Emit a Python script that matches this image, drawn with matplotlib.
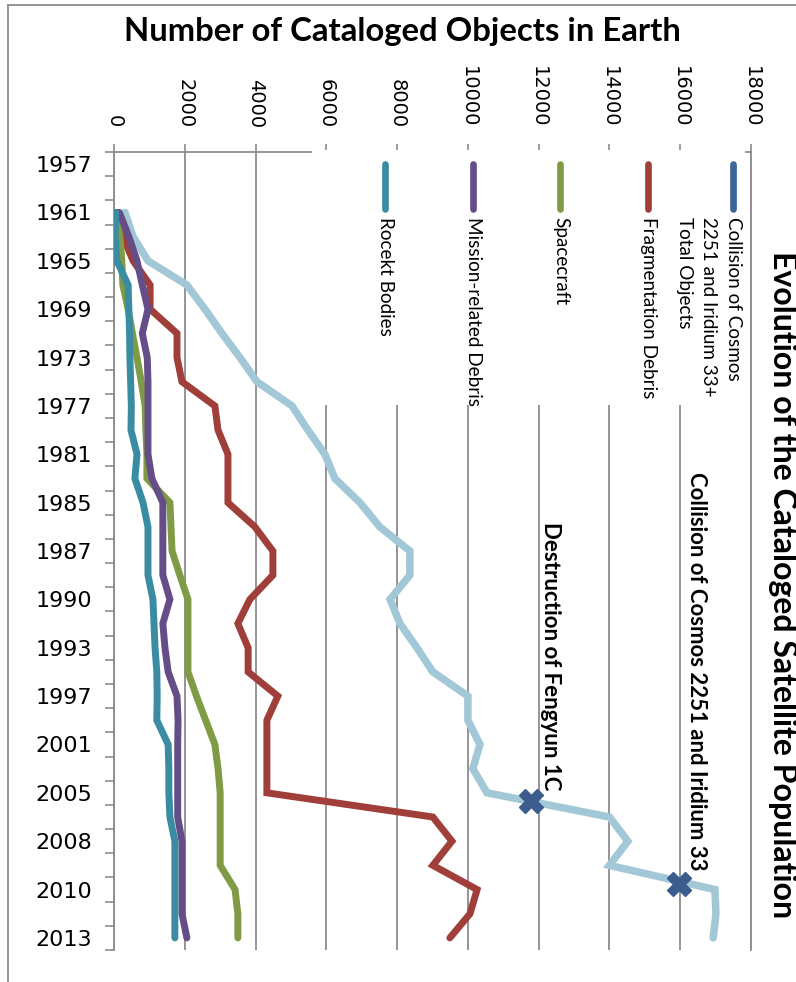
import numpy as np
import matplotlib
matplotlib.use("Agg")
import matplotlib.pyplot as plt
from matplotlib.lines import Line2D

# ---------------- data ----------------
years = ["1957", "1959", "1961", "1963", "1965", "1967", "1969", "1971", "1973",
         "1975", "1977", "1979", "1981", "1983", "1985", "1986", "1987", "1988",
         "1990", "1991", "1993", "1995", "1997", "1999", "2001", "2003", "2005",
         "2006", "2008", "2009", "2010", "2011", "2013"]

nan = np.nan
total_objects = [nan, nan, 310, 540, 960, 2060, 2570, 3050, 3560, 4040, 5030,
                 5480, 5960, 6240, 6950, 7510, 8360, 8360, 7800, 8080, 8560,
                 9010, 10000, 10000, 10340, 10140, 10540, 14000, 14520, 14000,
                 16980, 17010, 16930]
fragmentation_debris = [nan, nan, 100, 250, 540, 1020, 1020, 1780, 1780, 1920,
                        2850, 2940, 3220, 3220, 3220, 3980, 4490, 4490, 3840,
                        3500, 3790, 3790, 4630, 4320, 4320, 4320, 4320, 9010,
                        9550, 9010, 10260, 10060, 9490]
spacecraft = [nan, nan, 40, 170, 220, 250, 400, 520, 650, 770, 880, 900, 930,
              930, 1580, 1610, 1640, 1860, 2090, 2090, 2090, 2090, 2330, 2590,
              2850, 2940, 3000, 3000, 3000, 3000, 3420, 3500, 3500]
mission_debris = [nan, nan, 150, 420, 650, 800, 960, 800, 940, 960, 960, 960,
                  960, 1070, 1380, 1380, 1380, 1380, 1580, 1380, 1440, 1530,
                  1780, 1810, 1800, 1800, 1800, 1800, 1920, 1920, 1920, 1920,
                  2060]
rocket_bodies = [nan, nan, 50, 30, 80, 400, 420, 440, 450, 470, 490, 480, 650,
                 590, 820, 960, 960, 960, 1100, 1130, 1160, 1210, 1220, 1210,
                 1530, 1550, 1550, 1580, 1720, 1720, 1720, 1720, 1720]

series_names = ["Collision of Cosmos\n2251 and Iridium 33+\nTotal Objects",
                "Fragmentation Debris", "Spacecraft", "Mission-related Debris",
                "Rocekt Bodies"]

event_labels = ["Destruction of Fengyun 1C",
                "Collision of Cosmos 2251 and Iridium 33"]
event_position = [26.35, 29.75]          # position on the category axis
event_value = [11780, 15970]

value_ticks = list(range(0, 18001, 2000))

# ---------------- style ----------------
c_total = "#A2C8D7"
c_total_legend = "#3C659A"
c_frag = "#A03E3A"
c_space = "#7F9B45"
c_mission = "#654E87"
c_rocket = "#3A8CA2"
c_marker = "#3A5D8D"
c_grid = "#8C8C8C"

W, H = 796, 982
fig = plt.figure(figsize=(W / 100, H / 100), dpi=100)
fig.patch.set_facecolor("white")

ax = fig.add_axes([114 / W, (H - 950) / H, (751 - 114) / W, (950 - 152) / H])
cats = np.arange(len(years))
ax.set_xlim(value_ticks[0], value_ticks[-1])
ax.set_ylim(len(years) - 0.5, -0.5)

# grid & spines
ax.set_xticks(value_ticks)
ax.set_xticklabels([str(v) for v in value_ticks])
ax.xaxis.tick_top()
ax.xaxis.grid(True, color=c_grid, lw=1.3)
ax.set_axisbelow(True)
ax.tick_params(axis="x", which="major", direction="out", length=5.5, width=1.2,
               color=c_grid, pad=12, labelsize=14, labelrotation=-90,
               labelcolor="black")
for lab in ax.get_xticklabels():
    lab.set_family("DejaVu Sans")

ax.set_yticks(cats[::2])
ax.set_yticklabels([years[i] for i in cats[::2]], fontsize=16,
                   family="DejaVu Sans")
for lab in ax.get_yticklabels():
    lab.set_verticalalignment("center_baseline")
ax.set_yticks(np.arange(-0.5, len(years), 1.0), minor=True)
ax.tick_params(axis="y", which="major", length=0, pad=16)
ax.tick_params(axis="y", which="minor", direction="out", length=6.5,
               width=1.2, color=c_grid)

for side in ["left", "top", "right"]:
    ax.spines[side].set_color(c_grid)
    ax.spines[side].set_linewidth(1.3)
ax.spines["bottom"].set_visible(False)

# series (first drawn lowest)
lw = 5.0
series = [(total_objects, c_total, 5.4), (fragmentation_debris, c_frag, lw),
          (spacecraft, c_space, lw), (mission_debris, c_mission, lw),
          (rocket_bodies, c_rocket, lw)]
for i, (vals, col, w) in enumerate(series):
    ax.plot(vals, cats, color=col, lw=w, solid_joinstyle="miter",
            solid_capstyle="round", zorder=2 + i)

# event markers and labels
ax.plot(event_value, event_position, linestyle="none", marker="X",
        markersize=17, color=c_marker, markeredgecolor=c_marker, zorder=10)
ann = []
offsets = [(20, 11), (17, 13)]
for lab, v, p, off in zip(event_labels, event_value, event_position, offsets):
    t = ax.annotate(lab, xy=(v, p), xytext=off, textcoords="offset pixels",
                    rotation=-90, ha="center", va="bottom", fontsize=14,
                    fontweight="bold", family="Lato", zorder=11)
    ann.append(t)

# legend box (white, covering upper right of plot)
lax = fig.add_axes([312 / W, (H - 405) / H, (745 - 312) / W, (405 - 150) / H])
lax.set_xlim(312, 745)
lax.set_ylim(405, 150)
lax.set_xticks([])
lax.set_yticks([])
for s in lax.spines.values():
    s.set_visible(False)
lax.patch.set_facecolor("white")
legend_colors = [c_total_legend, c_frag, c_space, c_mission, c_rocket]
legend_x = [733, 648, 560, 473, 385]
leg_texts = []
for name, col, hx in zip(series_names, legend_colors, legend_x):
    lax.add_line(Line2D([hx, hx], [164, 209], color=col, lw=4.8,
                        solid_capstyle="round"))
    t = lax.text(hx + 9, 217, name, rotation=-90, ha="right", va="top",
                 fontsize=12, family="Lato", linespacing=1.55,
                 multialignment="left")
    leg_texts.append(t)

# titles
t_main = fig.text(782 / W, 1 - 585 / H,
                  "Evolution of the Cataloged Satellite Population",
                  rotation=-90, ha="center", va="center", fontsize=20,
                  fontweight="bold", family="Lato")
t_axis = fig.text(402 / W, 1 - 32 / H, "Number of Cataloged Objects in Earth",
                  ha="center", va="center", fontsize=20, fontweight="bold",
                  family="Lato")

# outer chart border
fig.add_artist(Line2D([8 / W, 8 / W], [0, 1 - 5 / H], transform=fig.transFigure,
                      color=c_grid, lw=1.3))
fig.add_artist(Line2D([8 / W, 1], [1 - 5 / H, 1 - 5 / H],
                      transform=fig.transFigure, color=c_grid, lw=1.3))


# fit text lengths to the reference
def fit(t, target, dim):
    fig.canvas.draw()
    bb = t.get_window_extent(fig.canvas.get_renderer())
    cur = bb.width if dim == "w" else bb.height
    t.set_fontsize(t.get_fontsize() * target / cur)


fit(t_main, 668, "h")
fit(t_axis, 558, "w")
fit(ann[0], 270, "h")
fit(ann[1], 400, "h")
fit(leg_texts[3], 188, "h")
for t in leg_texts:
    t.set_fontsize(leg_texts[3].get_fontsize())

fig.savefig("out.png", dpi=100, facecolor="white")
